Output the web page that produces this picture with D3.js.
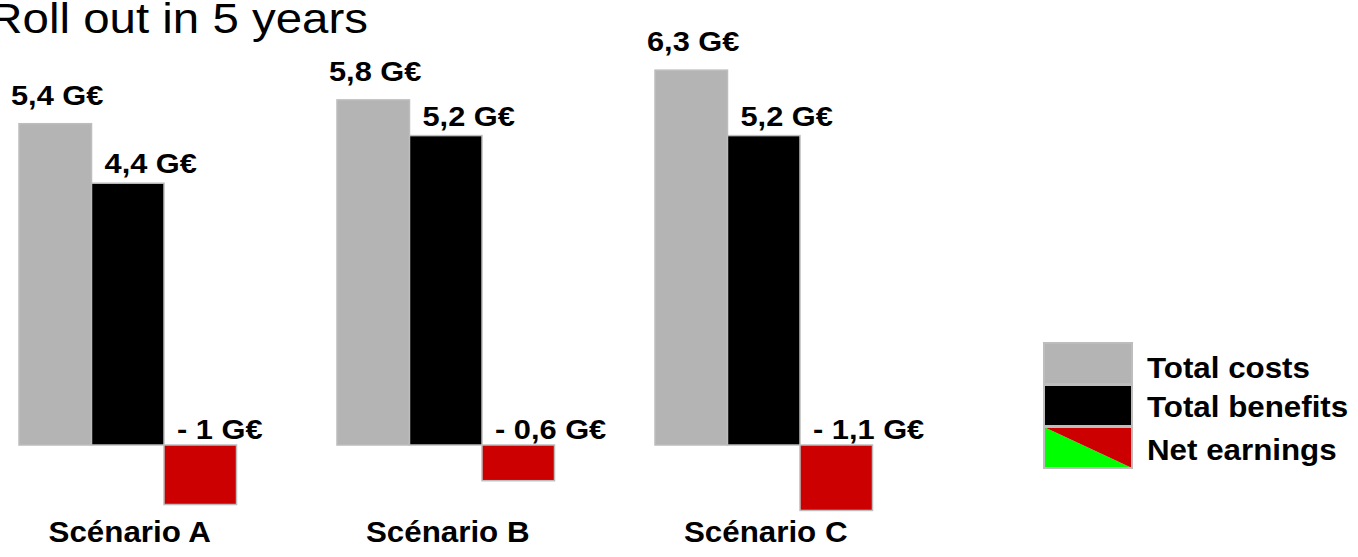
<!DOCTYPE html>
<html>
<head>
<meta charset="utf-8">
<script src="https://cdn.jsdelivr.net/npm/d3@7"></script>
<style>
  html, body { margin: 0; padding: 0; background: #fff; }
  svg { display: block; }
</style>
</head>
<body>
<svg id="chart" width="1358" height="557"></svg>
<script>
const title = "Roll out in 5 years";
const scenarios = ["Scénario A", "Scénario B", "Scénario C"];
const seriesNames = ["Total costs", "Total benefits", "Net earnings"];
const totalCosts = [5.4, 5.8, 6.3];
const totalBenefits = [4.4, 5.2, 5.2];
const netEarnings = [-1.0, -0.6, -1.1];
const unit = "G€";

const colors = { cost: "#b4b4b4", benefit: "#000000", net: "#cc0000", netPos: "#00ff00", edge: "#bdbdbd" };

const svg = d3.select("#chart");
const zeroY = 445, pxPerUnit = 59.5;
const y = d3.scaleLinear()
  .domain([-1.1, 6.3])
  .range([zeroY + 1.1 * pxPerUnit, zeroY - 6.3 * pxPerUnit]);

const x0 = d3.scaleBand().domain(scenarios).range([19, 872.5]).paddingInner(0.316).paddingOuter(0);
const x1 = d3.scaleBand().domain(seriesNames).range([0, x0.bandwidth()]).padding(0);

const rows = scenarios.map((s, i) => ({
  scenario: s,
  values: [
    { key: seriesNames[0], v: totalCosts[i], fill: colors.cost },
    { key: seriesNames[1], v: totalBenefits[i], fill: colors.benefit },
    { key: seriesNames[2], v: netEarnings[i], fill: colors.net }
  ]
}));

function fmt(v) {
  const n = Math.round(Math.abs(v) * 10) / 10;
  const s = n.toString().replace(".", ",");
  return (v < 0 ? "- " : "") + s + " " + unit;
}

const font = "'Liberation Sans', Arial, Helvetica, sans-serif";

// Title (cut at the left edge as in the reference)
svg.append("text")
  .attr("transform", `translate(368,33) scale(1.13,1)`)
  .attr("text-anchor", "end")
  .style("font-family", font)
  .style("font-size", "42px")
  .attr("fill", "#000")
  .text(title);

const g = svg.selectAll("g.grp").data(rows).join("g")
  .attr("class", "grp")
  .attr("transform", d => `translate(${x0(d.scenario)},0)`);

g.selectAll("rect").data(d => d.values).join("rect")
  .attr("x", d => x1(d.key))
  .attr("width", x1.bandwidth())
  .attr("y", d => y(Math.max(0, d.v)))
  .attr("height", d => Math.abs(y(d.v) - y(0)))
  .attr("fill", d => d.fill)
  .attr("stroke", colors.edge)
  .attr("stroke-width", 1.5);

// value labels
g.selectAll("text.val").data(d => d.values).join("text")
  .attr("class", "val")
  .attr("transform", (d, i) => {
    let tx, ty;
    if (i === 0) { tx = x1(d.key) - 8; ty = y(d.v) - 19; }
    else if (i === 1) { tx = x1(d.key) + 13; ty = y(d.v) - 10; }
    else { tx = x1(d.key) + 13; ty = y(0) - 6; }
    return `translate(${tx},${ty}) scale(1.1,1)`;
  })
  .style("font-family", font)
  .style("font-weight", "bold")
  .style("font-size", "28px")
  .attr("fill", "#000")
  .text(d => fmt(d.v));

// category labels
g.append("text")
  .attr("transform", d => `translate(${x0.bandwidth() / 2 + 2},542) scale(1.08,1)`)
  .attr("text-anchor", "middle")
  .style("font-family", font)
  .style("font-weight", "bold")
  .style("font-size", "29px")
  .attr("fill", "#000")
  .text(d => d.scenario);

// Legend
const legend = svg.append("g").attr("transform", "translate(1044,343)");
const swW = 88, swH = 41, swStep = 42;
const li = legend.selectAll("g").data(seriesNames).join("g")
  .attr("transform", (d, i) => `translate(0,${i * swStep})`);

li.each(function (d, i) {
  const s = d3.select(this);
  if (i < 2) {
    s.append("rect").attr("width", swW).attr("height", swH)
      .attr("fill", i === 0 ? colors.cost : colors.benefit)
      .attr("stroke", colors.edge).attr("stroke-width", 2);
  } else {
    s.append("polygon").attr("points", `0,0 0,${swH} ${swW},${swH}`).attr("fill", colors.netPos);
    s.append("polygon").attr("points", `0,0 ${swW},0 ${swW},${swH}`).attr("fill", colors.net);
    s.append("rect").attr("width", swW).attr("height", swH)
      .attr("fill", "none").attr("stroke", colors.edge).attr("stroke-width", 2);
  }
  s.append("text")
    .attr("transform", `translate(103,${[35, 32, 33][i]}) scale(1.08,1)`)
    .style("font-family", font)
    .style("font-weight", "bold")
    .style("font-size", "29px")
    .attr("fill", "#000")
    .text(d);
});
</script>
</body>
</html>
